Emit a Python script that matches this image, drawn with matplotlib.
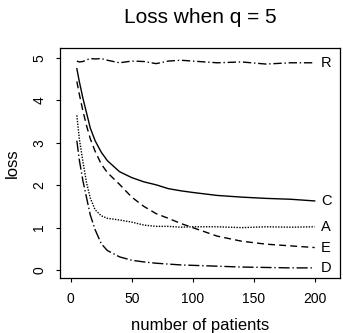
import numpy as np
import matplotlib
matplotlib.use("Agg")
import matplotlib.pyplot as plt

plt.rcParams['font.family'] = ['Liberation Sans', 'DejaVu Sans']

# number of patients
n = [5, 7, 10, 13, 16, 20, 25, 30, 40, 50, 60, 70, 80, 90, 100, 120, 140, 160, 180, 200]

loss_R = [4.93, 4.91, 4.92, 4.96, 4.99, 4.98, 4.99, 4.95, 4.89, 4.93, 4.92, 4.87, 4.93, 4.95, 4.93, 4.89, 4.91, 4.86, 4.89, 4.89]
loss_C = [4.75, 4.45, 4.05, 3.70, 3.35, 3.05, 2.78, 2.58, 2.32, 2.18, 2.08, 2.01, 1.92, 1.87, 1.83, 1.76, 1.72, 1.69, 1.67, 1.63]
loss_A = [3.65, 3.10, 2.55, 2.05, 1.70, 1.42, 1.28, 1.22, 1.18, 1.13, 1.06, 1.03, 1.03, 1.01, 1.02, 1.02, 1.00, 1.02, 1.01, 1.02]
loss_E = [4.45, 4.15, 3.75, 3.40, 3.10, 2.80, 2.50, 2.30, 2.02, 1.72, 1.50, 1.33, 1.22, 1.10, 1.00, 0.80, 0.68, 0.61, 0.57, 0.53]
loss_D = [3.05, 2.60, 2.10, 1.70, 1.30, 0.95, 0.62, 0.46, 0.31, 0.23, 0.19, 0.16, 0.14, 0.12, 0.11, 0.09, 0.07, 0.06, 0.05, 0.05]

series = [
    ("R", loss_R, (0, (6, 2, 1, 2))),
    ("C", loss_C, "-"),
    ("A", loss_A, (0, (1, 1))),
    ("E", loss_E, (0, (5, 3))),
    ("D", loss_D, (0, (8, 2, 1, 2))),
]

fig = plt.figure(figsize=(3.43, 3.33), dpi=100)
ax = fig.add_axes([0.175, 0.165, 0.816, 0.691])

for name, y, ls in series:
    ax.plot(n, y, color="black", lw=1.0, linestyle=ls)
    ax.text(n[-1] + 5, y[-1], name, fontsize=10.5, va="center", ha="left")

ax.set_xlim(-8.8, 220.7)
ax.set_ylim(-0.19, 5.24)
ax.set_xticks([0, 50, 100, 150, 200])
ax.set_yticks([0, 1, 2, 3, 4, 5])
ax.tick_params(axis="both", direction="out", length=3, width=0.8, labelsize=10, pad=7)
for lab in ax.get_yticklabels():
    lab.set_rotation(90)
    lab.set_va("center")
for s in ax.spines.values():
    s.set_linewidth(0.9)

ax.set_title("Loss when q = 5", fontsize=15, pad=18)
ax.set_xlabel("number of patients", fontsize=12, labelpad=9)
ax.set_ylabel("loss", fontsize=12, labelpad=9)

fig.savefig("out.png", dpi=100)
